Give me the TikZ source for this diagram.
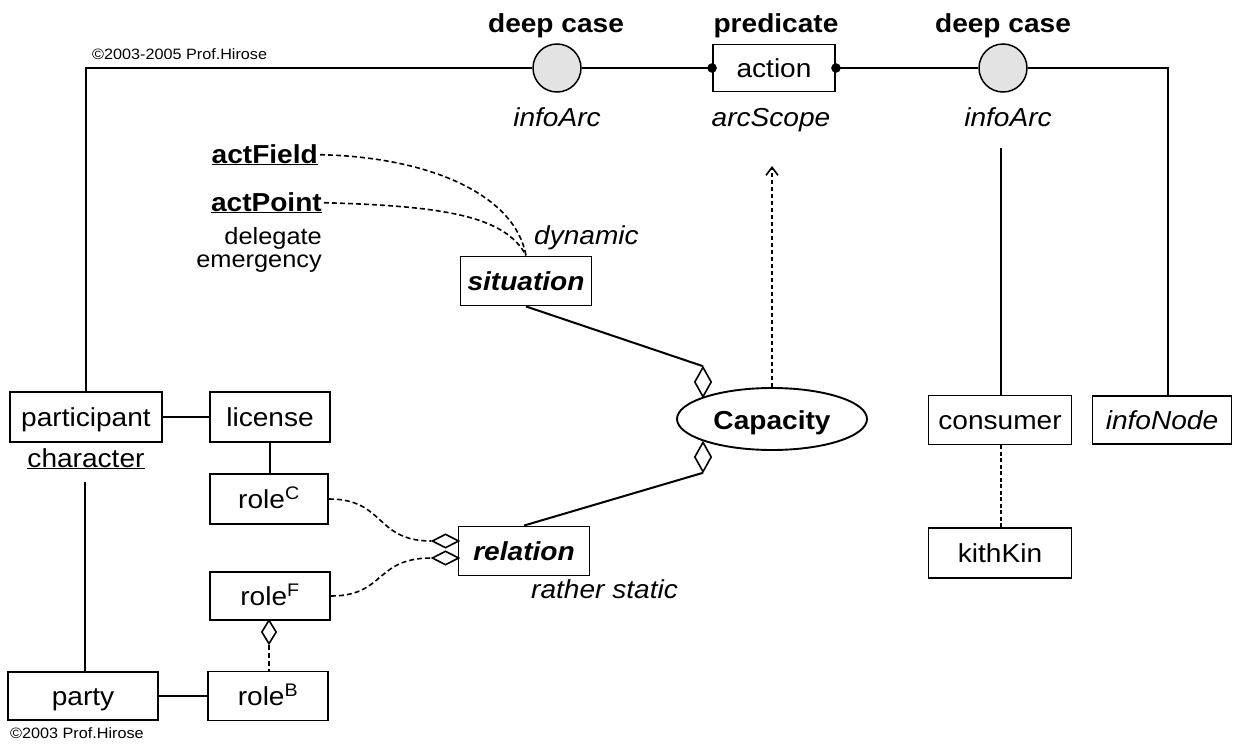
\documentclass[tikz,border=0pt]{standalone}
\usepackage{fontspec}
\setmainfont{Liberation Sans}[FakeStretch=1.08]
\usetikzlibrary{shapes.geometric,arrows.meta}
\begin{document}
\begin{tikzpicture}[x=1pt,y=-1pt,
  every node/.style={font=\fontsize{26}{28}\selectfont},
  box/.style={draw,line width=1.9pt,minimum height=49pt,inner sep=0pt,text height=19pt,text depth=0pt},
  main/.style={line width=2.8pt},
  conn/.style={line width=2.0pt},
  dsh/.style={line width=1.6pt,dash pattern=on 5pt off 3pt},
  agg/.style={diamond,draw,line width=1.6pt,inner sep=0pt,fill=white},
  dcase/.style={circle,draw,line width=1.5pt,minimum size=48pt,inner sep=0pt,fill=gray!22},
  lbl/.style={inner sep=2pt},
  bl/.style={lbl,font=\bfseries\fontsize{26}{28}\selectfont},
  il/.style={lbl,font=\itshape\fontsize{26}{28}\selectfont},
  copy/.style={lbl,inner sep=0pt,font=\fontsize{15}{16}\selectfont},
]
\useasboundingbox (0,0) rectangle (1236,744);

% top row
\node[dcase] (c1) at (557,68) {};
\node[box,minimum width=122pt,minimum height=47pt] (act) at (774,68) {action};
\node[dcase] (c2) at (1003,68) {};
\node[bl,anchor=base] (dc1) at (556,32) {deep case};
\node[bl,anchor=base] (pred) at (776,32) {predicate};
\node[bl,anchor=base] (dc2) at (1003,32) {deep case};
\node[il,anchor=base] (ia1) at (557,126) {infoArc};
\node[il,anchor=base] (asc) at (771,126) {arcScope};
\node[il,anchor=base] (ia2) at (1008,126) {infoArc};
\node[copy,anchor=base west] (cp1) at (92,59) {©2003-2005 Prof.Hirose};

% left labels
\node[lbl,anchor=base east,font=\bfseries\fontsize{26}{28}\selectfont] (aF) at (320,163) {\underline{actField}};
\node[lbl,anchor=base east,font=\bfseries\fontsize{26}{28}\selectfont] (aP) at (324,211) {\underline{actPoint}};
\node[lbl,anchor=north east,align=right,inner sep=0pt,font=\fontsize{23.5}{23}\selectfont] (deleg) at (322,227) {delegate\\emergency};
\node[il,anchor=base west] (dyn) at (532,244) {dynamic};

% boxes
\node[box,minimum width=131pt,font=\bfseries\itshape\fontsize{26}{28}\selectfont] (situation) at (526,281) {situation};
\node[box,minimum width=131pt,font=\bfseries\itshape\fontsize{26}{28}\selectfont] (relation) at (524,551) {relation};
\node[il,anchor=base west] (rs) at (529,598) {rather static};

\node[box,minimum width=152pt,minimum height=50pt] (participant) at (86,417) {participant};
\node[lbl,anchor=base] (char) at (86,467) {\underline{character}};
\node[box,minimum width=120pt,minimum height=50pt] (license) at (270,417) {license};
\node[box,minimum width=118pt,minimum height=50pt] (roleC) at (269,499) {role\textsuperscript{C}};
\node[box,minimum width=120pt,minimum height=48pt] (roleF) at (270,596) {role\textsuperscript{F}};
\node[box,minimum width=120pt,minimum height=49pt] (roleB) at (268,696) {role\textsuperscript{B}};
\node[box,minimum width=150pt,minimum height=48pt] (party) at (83,696) {party};
\node[copy,anchor=base west] (cp2) at (10,738) {©2003 Prof.Hirose};

\node[ellipse,draw,line width=1.9pt,minimum width=190pt,minimum height=62pt,inner sep=0pt,
      text height=20pt,text depth=0pt,font=\bfseries\fontsize{26}{28}\selectfont] (cap) at (772,419) {Capacity};

\node[box,minimum width=143pt] (consumer) at (1000,420) {consumer};
\node[box,minimum width=139pt,minimum height=48pt,font=\itshape\fontsize{26}{28}\selectfont] (infoNode) at (1162,420) {infoNode};
\node[box,minimum width=143pt,minimum height=50pt] (kithKin) at (1000,553) {kithKin};

% aggregation diamonds
\node[agg,minimum width=17pt,minimum height=30pt] (dU) at (703,382) {};
\node[agg,minimum width=17pt,minimum height=30pt] (dL) at (703,457) {};
\node[agg,minimum width=27pt,minimum height=14pt] (dR1) at (445.5,541) {};
\node[agg,minimum width=27pt,minimum height=14pt] (dR2) at (445.5,558) {};
\node[agg,minimum width=15pt,minimum height=24pt] (dB) at (269,632) {};

% main frame lines
\draw[main] (participant.north) -- (participant.north |- c1.west) -- (c1.west);
\draw[main] (c1.east) -- (act.west);
\draw[main] (act.east) -- (c2.west);
\coordinate (TR) at (1168,68);
\draw[main] (c2.east) -- (TR) -- (TR |- infoNode.north);
\fill (act.west) circle (4.8pt);
\fill (act.east) circle (4.8pt);

\coordinate (cs) at (1001,148);
\draw[main] (cs) -- (cs |- consumer.north);
\draw[line width=1.4pt,dash pattern=on 4pt off 2.5pt] (consumer.south -| cs) -- (kithKin.north -| cs);

% left structure
\draw[conn] (participant.east) -- (license.west);
\draw[conn] (license.south) -- (license.south |- roleC.north);
\coordinate (pl) at (85,482);
\draw[main] (pl) -- (pl |- party.north);
\draw[conn] (party.east) -- (roleB.west);
\draw[dsh] (dB.south) -- (dB.south |- roleB.north);

\draw[dsh] (roleC.east) .. controls (385,499) and (375,541) .. (dR1.west);
\draw[dsh] (roleF.east) .. controls (385,596) and (375,558) .. (dR2.west);

\draw[conn] (situation.south) -- (dU.north);
\draw[conn] (relation.north) -- (dL.south);

\coordinate (atip) at (772,166);
\draw[line width=1.6pt,dash pattern=on 4pt off 3pt,-{Straight Barb[length=8pt,width=12pt]}] (cap.north) -- (atip);

\draw[dsh] (aF.east) .. controls (430,157) and (515,195) .. (situation.north);
\draw[dsh] (aP.east) .. controls (440,206) and (505,215) .. (situation.north);
\end{tikzpicture}
\end{document}
